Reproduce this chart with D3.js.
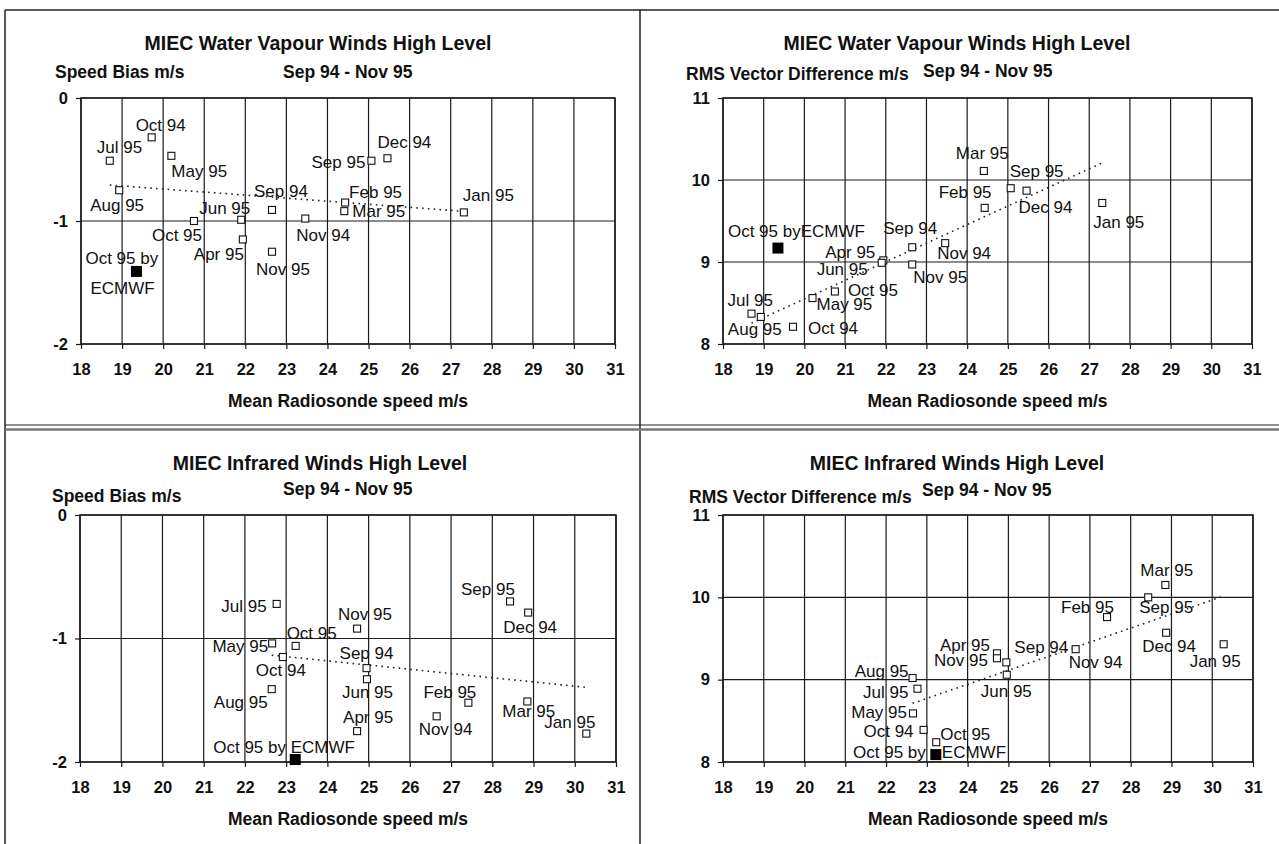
<!DOCTYPE html>
<html lang="en">
<head>
<meta charset="UTF-8">
<script src="https://d3js.org/d3.v7.min.js"></script>
<title>MIEC winds</title>
<style>
  body { margin: 0; background: #fff; }
  text { font-family: Arial, "Liberation Sans", sans-serif; fill: #111; }
</style>
</head>
<body>
<div id="container"></div>
<script>
// months in order of the campaign
const months = ['Sep 94', 'Oct 94', 'Nov 94', 'Dec 94', 'Jan 95', 'Feb 95', 'Mar 95',
                'Apr 95', 'May 95', 'Jun 95', 'Jul 95', 'Aug 95', 'Sep 95', 'Oct 95', 'Nov 95'];

// water vapour winds
const wvSpeed = [22.65, 19.72, 23.46, 25.46, 27.32, 24.43, 24.41, 21.94, 20.20, 21.90, 18.70, 18.93, 25.07, 20.75, 22.65];
const wvBias  = [-0.91, -0.32, -0.98, -0.49, -0.93, -0.85, -0.92, -1.15, -0.47, -0.99, -0.51, -0.75, -0.51, -1.00, -1.25];
const wvRms   = [9.18, 8.21, 9.23, 9.87, 9.72, 9.66, 10.11, 9.02, 8.56, 8.99, 8.37, 8.33, 9.90, 8.64, 8.97];

// infrared winds
const irSpeed = [24.95, 22.92, 26.65, 28.87, 30.28, 27.42, 28.85, 24.72, 22.66, 24.96, 22.77, 22.65, 28.43, 23.23, 24.72];
const irBias  = [-1.24, -1.15, -1.63, -0.79, -1.77, -1.52, -1.51, -1.75, -1.04, -1.33, -0.72, -1.41, -0.70, -1.06, -0.92];
const irRms   = [9.21, 8.39, 9.37, 9.57, 9.43, 9.76, 10.15, 9.32, 8.59, 9.06, 8.89, 9.02, 10.00, 8.24, 9.26];

// Oct 95 verified against ECMWF
const wvEcmwfSpeed = 19.35, wvEcmwfBias = -1.41, wvEcmwfRms = 9.17;
const irEcmwfSpeed = 23.22, irEcmwfBias = -1.98, irEcmwfRms = 8.09;

const xTicks = d3.range(18, 32);
const biasTicks = [0, -1, -2];
const rmsTicks = [11, 10, 9, 8];

const period = 'Sep 94 - Nov 95';
const xTitle = 'Mean Radiosonde speed m/s';

// label placement, one entry per month: [dx, dy, anchor]
const wvBiasLabels = [[-18,-13],[-16,-6],[-9,22],[-10,-10],[-1,-11],[4,-5],[8,6],[-49,21],[0,21],
                      [-42,-6],[-13,-8],[-29,21],[-6,7,'end'],[-42,20],[-16,23]];
const wvRmsLabels  = [[-29,-13],[15,7],[-8,16],[-8,22],[-9,25],[-46,-10],[-28,-12],[-8,-2,'end'],[4,12],
                      [-14,12,'end'],[-24,-8],[-33,18],[-1,-11],[13,4],[1,19]];
const irBiasLabels = [[-27,-9],[-27,19],[-18,19],[-25,20],[-42,-6],[-45,-5],[-25,16],[-14,-8],[-4,9,'end'],
                      [-25,19],[-10,8,'end'],[-4,19,'end'],[-49,-6],[-9,-7],[-19,-9]];
const irRmsLabels  = [[8,-9],[-10,7,'end'],[-7,19],[-24,19],[-34,23],[-46,-4],[-25,-9],[-7,-2,'end'],[-6,5,'end'],
                      [-26,22],[-9,9,'end'],[-4,-1,'end'],[-9,16],[4,-2],[-9,8,'end']];

const panels = [
  {x0: 81, x1: 615, y0: 98, y1: 344, yDom: [-2, 0], yTicks: biasTicks,
   xs: wvSpeed, ys: wvBias, ex: wvEcmwfSpeed, ey: wvEcmwfBias, labels: wvBiasLabels,
   ecLabels: [['Oct 95 by', -51, -7], ['ECMWF', -46, 23]],
   title: 'MIEC Water Vapour Winds High Level', tx: 318, ty: 50,
   yl: 'Speed Bias m/s', ylx: 55, yly: 78, px: 283, py: 78},
  {x0: 723, x1: 1252, y0: 98, y1: 344, yDom: [8, 11], yTicks: rmsTicks,
   xs: wvSpeed, ys: wvRms, ex: wvEcmwfSpeed, ey: wvEcmwfRms, labels: wvRmsLabels,
   ecLabels: [['Oct 95 byECMWF', -50, -11]],
   title: 'MIEC Water Vapour Winds High Level', tx: 957, ty: 50,
   yl: 'RMS Vector Difference m/s', ylx: 686, yly: 80, px: 923, py: 77},
  {x0: 80, x1: 616, y0: 515, y1: 762, yDom: [-2, 0], yTicks: biasTicks,
   xs: irSpeed, ys: irBias, ex: irEcmwfSpeed, ey: irEcmwfBias, labels: irBiasLabels,
   ecLabels: [['Oct 95 by ECMWF', -82, -7]],
   title: 'MIEC Infrared Winds High Level', tx: 320, ty: 470,
   yl: 'Speed Bias m/s', ylx: 52, yly: 502, px: 283, py: 495},
  {x0: 723, x1: 1253, y0: 515, y1: 762, yDom: [8, 11], yTicks: rmsTicks,
   xs: irSpeed, ys: irRms, ex: irEcmwfSpeed, ey: irEcmwfRms, labels: irRmsLabels,
   ecLabels: [['Oct 95 by', -10, 3, 'end'], ['ECMWF', 6, 3]],
   title: 'MIEC Infrared Winds High Level', tx: 957, ty: 470,
   yl: 'RMS Vector Difference m/s', ylx: 689, yly: 503, px: 922, py: 496}
];

const width = 1279, height = 844;
const svg = d3.select('#container').append('svg')
  .attr('width', width).attr('height', height);

// page frame
const frame = svg.append('g').attr('stroke', '#222').attr('fill', 'none');
frame.append('line').attr('x1', 5).attr('x2', width).attr('y1', 10).attr('y2', 10).attr('stroke-width', 1.5);
frame.append('line').attr('x1', 5).attr('x2', 5).attr('y1', 10).attr('y2', height).attr('stroke-width', 1.5);
frame.append('line').attr('x1', 640).attr('x2', 640).attr('y1', 10).attr('y2', height).attr('stroke-width', 1.5);
frame.append('line').attr('x1', 5).attr('x2', width).attr('y1', 425).attr('y2', 425).attr('stroke-width', 1.2);
frame.append('line').attr('x1', 5).attr('x2', width).attr('y1', 429.5).attr('y2', 429.5)
  .attr('stroke-width', 2.5).attr('stroke', '#777');

function regression(xs, ys) {
  const mx = d3.mean(xs), my = d3.mean(ys);
  const sxy = d3.sum(xs, (d, i) => (d - mx) * (ys[i] - my));
  const sxx = d3.sum(xs, d => (d - mx) * (d - mx));
  const b = sxy / sxx;
  return x => my + b * (x - mx);
}

// plain hyphen for negative ticks, as in the original
const plain = d => String(d);

panels.forEach(function(p) {
  const x = d3.scaleLinear().domain([18, 31]).range([p.x0, p.x1]);
  const y = d3.scaleLinear().domain(p.yDom).range([p.y1, p.y0]);
  const g = svg.append('g');

  // titles
  g.append('text').attr('x', p.tx).attr('y', p.ty).attr('text-anchor', 'middle')
    .style('font-size', '19.5px').style('font-weight', 'bold').text(p.title);
  g.append('text').attr('x', p.ylx).attr('y', p.yly)
    .style('font-size', '17.5px').style('font-weight', 'bold').text(p.yl);
  g.append('text').attr('x', p.px).attr('y', p.py)
    .style('font-size', '17.5px').style('font-weight', 'bold').text(period);
  g.append('text').attr('x', (p.x0 + p.x1) / 2).attr('y', p.y1 + 63).attr('text-anchor', 'middle')
    .style('font-size', '17.5px').style('font-weight', 'bold').text(xTitle);

  // grid
  const grid = g.append('g').attr('stroke', '#1a1a1a').attr('stroke-width', 1.2);
  grid.selectAll('.vx').data(xTicks).enter().append('line')
    .attr('x1', d => x(d)).attr('x2', d => x(d)).attr('y1', p.y0).attr('y2', p.y1);
  grid.selectAll('.hy').data(p.yTicks).enter().append('line')
    .attr('x1', p.x0).attr('x2', p.x1).attr('y1', d => y(d)).attr('y2', d => y(d));
  g.append('rect').attr('x', p.x0).attr('y', p.y0)
    .attr('width', p.x1 - p.x0).attr('height', p.y1 - p.y0)
    .attr('fill', 'none').attr('stroke', '#1a1a1a').attr('stroke-width', 1.5);

  // axes
  const ax = g.append('g').attr('transform', `translate(0,${p.y1})`)
    .call(d3.axisBottom(x).tickValues(xTicks).tickFormat(plain).tickSize(5).tickSizeOuter(0).tickPadding(14));
  const ay = g.append('g').attr('transform', `translate(${p.x0},0)`)
    .call(d3.axisLeft(y).tickValues(p.yTicks).tickFormat(plain).tickSize(5).tickSizeOuter(0).tickPadding(8));
  [ax, ay].forEach(a => {
    a.select('.domain').remove();
    a.selectAll('line').attr('stroke', '#1a1a1a').attr('stroke-width', 1.2);
    a.selectAll('text').attr('fill', '#111')
      .style('font-family', 'Arial, "Liberation Sans", sans-serif')
      .style('font-size', '16.5px').style('font-weight', 'bold');
  });

  // dotted linear trend over the monthly points
  const f = regression(p.xs, p.ys);
  const ext = d3.extent(p.xs);
  g.append('line')
    .attr('x1', x(ext[0])).attr('y1', y(f(ext[0])))
    .attr('x2', x(ext[1])).attr('y2', y(f(ext[1])))
    .attr('stroke', '#222').attr('stroke-width', 1.6)
    .attr('stroke-dasharray', '1.6 4.2');

  // monthly points
  g.selectAll('.pt').data(p.xs).enter().append('rect')
    .attr('x', d => x(d) - 3.5).attr('y', (d, i) => y(p.ys[i]) - 3.5)
    .attr('width', 7).attr('height', 7)
    .attr('fill', '#fff').attr('stroke', '#111').attr('stroke-width', 1.1);

  g.selectAll('.lb').data(months).enter().append('text')
    .attr('x', (d, i) => x(p.xs[i]) + p.labels[i][0])
    .attr('y', (d, i) => y(p.ys[i]) + p.labels[i][1])
    .attr('text-anchor', (d, i) => p.labels[i][2] || 'start')
    .style('font-size', '17px')
    .text(d => d);

  // ECMWF verified point
  const ecx = x(p.ex), ecy = y(p.ey);
  g.append('rect').attr('x', ecx - 5.5).attr('y', ecy - 5.5)
    .attr('width', 11).attr('height', 11).attr('fill', '#000');
  p.ecLabels.forEach(l => {
    g.append('text').attr('x', ecx + l[1]).attr('y', ecy + l[2])
      .attr('text-anchor', l[3] || 'start')
      .style('font-size', '17px').text(l[0]);
  });
});
</script>
</body>
</html>
